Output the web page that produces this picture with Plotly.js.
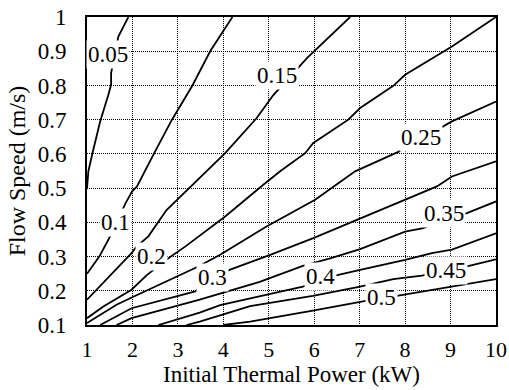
<!DOCTYPE html>
<html><head><meta charset="utf-8">
<script src="https://cdn.plot.ly/plotly-3.0.1.min.js"></script>
<style>html,body{margin:0;padding:0;background:#fff}#chart{width:509px;height:390px}</style>
</head><body><div id="chart"></div>
<script>
// contour levels and their polylines
const levelNames = ['0.05','0.1','0.15','0.2','0.25','0.3','0.35','0.4','0.45','0.5'];
const c005x = [1.0, 1.03, 1.12, 1.29, 1.47, 1.53, 1.53, 1.69, 1.91];
const c005y = [0.5, 0.549, 0.602, 0.695, 0.773, 0.802, 0.836, 0.943, 1.0];
const c010x = [4.20, 3.71, 3.32, 2.87, 2.47, 2.10, 1.99, 1.85, 1.47, 1.27, 1.0];
const c010y = [1.0, 0.9, 0.8, 0.7, 0.6, 0.505, 0.49, 0.456, 0.349, 0.30, 0.25];
const c015x = [6.79, 5.84, 5.10, 4.73, 4.04, 3.63, 3.08, 2.75, 2.35, 2.09, 1.98, 1.64, 1.29, 1.0];
const c015y = [1.0, 0.880, 0.772, 0.704, 0.602, 0.549, 0.480, 0.436, 0.359, 0.329, 0.310, 0.262, 0.212, 0.174];
const c020x = [10.0, 9.03, 8.0, 7.74, 7.01, 6.75, 5.98, 5.80, 5.25, 4.88, 4.04, 3.16, 2.79, 2.31, 1.98, 1.36, 1.0];
const c020y = [1.0, 0.914, 0.831, 0.799, 0.734, 0.70, 0.632, 0.602, 0.549, 0.51, 0.417, 0.329, 0.295, 0.245, 0.203, 0.154, 0.12];
const c025x = [1.0, 1.65, 1.95, 3.45, 3.93, 4.95, 6.02, 6.90, 7.85, 8.84, 9.03, 10.0];
const c025y = [0.106, 0.159, 0.178, 0.271, 0.305, 0.388, 0.466, 0.549, 0.606, 0.68, 0.695, 0.753];
const c030x = [1.29, 1.98, 3.38, 3.76, 4.15, 5.03, 5.98, 7.01, 8.0, 8.70, 9.03, 10.0];
const c030y = [0.1, 0.149, 0.198, 0.239, 0.262, 0.305, 0.354, 0.412, 0.466, 0.505, 0.534, 0.578];
const c035x = [1.65, 1.98, 3.48, 3.92, 4.80, 5.75, 6.35, 7.01, 8.0, 8.40, 8.86, 9.36, 10.0];
const c035y = [0.1, 0.12, 0.174, 0.191, 0.226, 0.273, 0.295, 0.322, 0.373, 0.383, 0.41, 0.427, 0.461];
const c040x = [2.57, 3.48, 3.93, 5.75, 6.13, 6.46, 7.01, 8.0, 8.59, 9.03, 10.0];
const c040y = [0.1, 0.136, 0.158, 0.212, 0.228, 0.244, 0.261, 0.29, 0.31, 0.32, 0.368];
const c045x = [3.19, 3.48, 4.59, 5.97, 7.01, 7.74, 8.37, 8.90, 9.36, 10.0];
const c045y = [0.1, 0.11, 0.155, 0.185, 0.212, 0.234, 0.244, 0.258, 0.271, 0.292];
const c050x = [4.0, 4.59, 5.97, 7.01, 7.49, 7.82, 10.0];
const c050y = [0.1, 0.11, 0.142, 0.168, 0.179, 0.185, 0.234];
// label positions (data coords)
const labelX = [1.46, 1.63, 5.18, 2.43, 8.35, 3.76, 8.86, 6.13, 8.90, 7.49];
const labelY = [0.889, 0.40, 0.828, 0.30, 0.647, 0.239, 0.425, 0.241, 0.258, 0.181];

const xs = [c005x, c010x, c015x, c020x, c025x, c030x, c035x, c040x, c045x, c050x];
const ys = [c005y, c010y, c015y, c020y, c025y, c030y, c035y, c040y, c045y, c050y];
const FONT = 'Liberation Serif';

const traces = xs.map((x, i) => ({
  type: 'scatter', mode: 'lines', x: x, y: ys[i],
  line: {color: '#000', width: 1.8}, hoverinfo: 'skip', showlegend: false,
  name: levelNames[i]
}));

const annotations = levelNames.map((t, i) => ({
  x: labelX[i], y: labelY[i], xref: 'x', yref: 'y', text: t, showarrow: false,
  bgcolor: '#fff', borderpad: 1, font: {family: FONT, size: 23, color: '#000'}
}));

const axisCommon = {
  showgrid: true, gridcolor: '#000', gridwidth: 1, griddash: '1px,1px',
  showline: true, mirror: true, linecolor: '#000', linewidth: 2,
  zeroline: false, ticks: ''
};

const layout = {
  width: 509, height: 390,
  margin: {l: 87, r: 13, t: 17, b: 65},
  paper_bgcolor: '#fff', plot_bgcolor: '#fff',
  showlegend: false,
  xaxis: Object.assign({}, axisCommon, {
    range: [1, 10], tick0: 1, dtick: 1, ticklabelstandoff: 4,
    tickfont: {family: FONT, size: 22, color: '#000'},
    title: {text: 'Initial Thermal Power (kW)', font: {family: FONT, size: 23, color: '#000'}, standoff: 2}
  }),
  yaxis: Object.assign({}, axisCommon, {
    range: [0.1, 1], tick0: 0.1, dtick: 0.1, ticklabelstandoff: 14,
    tickfont: {family: FONT, size: 23, color: '#000'},
    title: {text: 'Flow Speed (m/s)', font: {family: FONT, size: 24, color: '#000'}, standoff: 5}
  }),
  annotations: annotations
};

Plotly.newPlot('chart', traces, layout, {staticPlot: true, displayModeBar: false});
</script>
</body></html>
